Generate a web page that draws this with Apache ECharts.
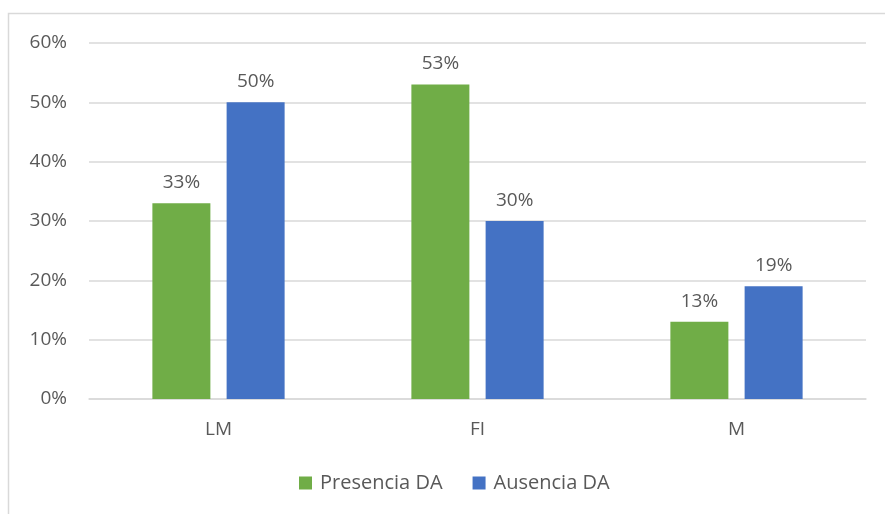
<!DOCTYPE html>
<html>
<head>
<meta charset="utf-8">
<script src="https://cdn.jsdelivr.net/npm/echarts@6/dist/echarts.min.js"></script>
<style>
  html, body { margin: 0; padding: 0; background: #ffffff; }
  #chart { width: 885px; height: 514px; }
</style>
</head>
<body>
<div id="chart"></div>
<script>
// Categories and percentage values for each group
const categories = ['LM', 'FI', 'M'];
const presenciaDA = [33, 53, 13];
const ausenciaDA = [50, 30, 19];
const yTicks = [0, 10, 20, 30, 40, 50, 60];

const textColor = '#595959';
const fontFamily = '"Open Sans", "Liberation Sans", sans-serif';
const fontSize = 19;

const chart = echarts.init(document.getElementById('chart'));

const labelStyle = {
  show: true,
  position: 'top',
  distance: 11,
  color: textColor,
  fontSize: fontSize,
  fontFamily: fontFamily,
  formatter: p => p.value + '%'
};

chart.setOption({
  animation: false,
  backgroundColor: '#ffffff',
  graphic: [{
    type: 'rect',
    shape: { x: 8.5, y: 13.5, width: 900, height: 520 },
    style: { fill: 'none', stroke: '#d9d9d9', lineWidth: 1.5 },
    silent: true
  }],
  grid: { left: 89, right: 19, top: 43, bottom: 115 },
  legend: {
    bottom: 16,
    left: 294,
    itemWidth: 13,
    itemHeight: 13,
    itemGap: 30,
    icon: 'rect',
    textStyle: { color: textColor, fontSize: 20, fontFamily: fontFamily, padding: [0, 0, 0, 3] }
  },
  xAxis: {
    type: 'category',
    data: categories,
    axisLine: { show: true, lineStyle: { color: '#d9d9d9', width: 1.5 } },
    axisTick: { show: false },
    axisLabel: { color: textColor, fontSize: fontSize, fontFamily: fontFamily, margin: 21 }
  },
  yAxis: {
    type: 'value',
    min: yTicks[0],
    max: yTicks[yTicks.length - 1],
    interval: 10,
    axisLine: { show: false },
    axisTick: { show: false },
    splitLine: { lineStyle: { color: '#d9d9d9', width: 1.5 } },
    axisLabel: {
      color: textColor, fontSize: fontSize, fontFamily: fontFamily, margin: 22,
      formatter: v => v + '%'
    }
  },
  series: [
    {
      name: 'Presencia DA',
      type: 'bar',
      data: presenciaDA,
      barWidth: 58,
      barGap: '28%',
      itemStyle: { color: '#70ad47' },
      label: labelStyle
    },
    {
      name: 'Ausencia DA',
      type: 'bar',
      data: ausenciaDA,
      barWidth: 58,
      barGap: '28%',
      itemStyle: { color: '#4472c4' },
      label: labelStyle
    }
  ]
});
</script>
</body>
</html>
